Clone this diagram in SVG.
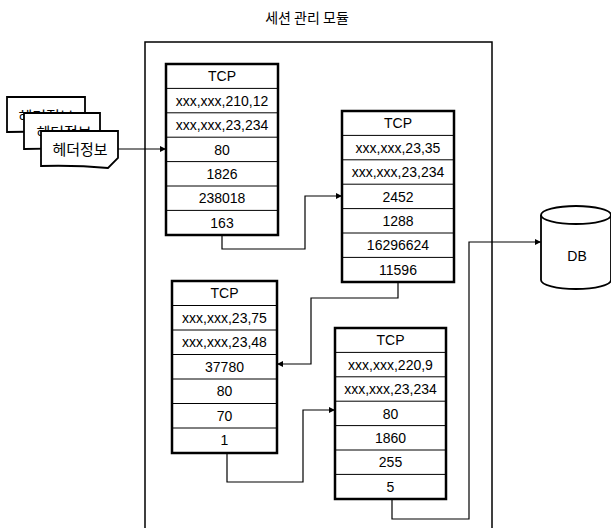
<svg xmlns="http://www.w3.org/2000/svg" width="611" height="528" viewBox="0 0 611 528">
<defs>
<style>
.t{font-family:"Liberation Sans","Noto Sans CJK KR",sans-serif;font-size:14px;fill:#000;text-anchor:middle}
.k{font-family:"Noto Sans CJK KR","Liberation Sans",sans-serif;fill:#000;text-anchor:middle}
.box{fill:#fff;stroke:#000;stroke-width:2.5}
.sep{stroke:#000;stroke-width:1}
.ln{fill:none;stroke:#000;stroke-width:1.2}
.doc{fill:#fff;stroke:#000;stroke-width:1.8}
</style>
<marker id="ah" viewBox="0 0 10 10" refX="10" refY="5" markerWidth="6" markerHeight="6" orient="auto" markerUnits="userSpaceOnUse">
<path d="M0,0 L10,5 L0,10 Z" fill="#000"/>
</marker>
</defs>
<rect width="611" height="528" fill="#fff"/>
<text class="k" x="307" y="23" font-size="14">세션 관리 모듈</text>
<g id="module">
<rect x="145" y="42" width="347" height="490" fill="none" stroke="#000" stroke-width="1.5"/>
</g>
<g id="headers">
<path class="doc" d="M7,97 H85 V124 L76,134 Q45,131 7,132 Z"/>
<text class="k" x="46" y="122" font-size="15">헤더정보</text>
<path class="doc" d="M24,113 H100 V141 L91,150 Q60,148 24,149 Z"/>
<text class="k" x="64" y="138" font-size="15">헤더정보</text>
<path class="doc" d="M41,131 H118 V158 L108,168 Q76,165 41,166 Z"/>
<text class="k" x="80" y="155" font-size="15">헤더정보</text>
</g>
<g id="node1">
<rect class="box" x="166" y="64" width="112" height="171"/>
<g class="sep"><line x1="166" y1="88.4" x2="278" y2="88.4"/><line x1="166" y1="112.8" x2="278" y2="112.8"/><line x1="166" y1="137.2" x2="278" y2="137.2"/><line x1="166" y1="161.6" x2="278" y2="161.6"/><line x1="166" y1="186" x2="278" y2="186"/><line x1="166" y1="210.4" x2="278" y2="210.4"/></g>
<text class="t" x="222" y="81">TCP</text>
<text class="t" x="222" y="105.5">xxx,xxx,210,12</text>
<text class="t" x="222" y="130">xxx,xxx,23,234</text>
<text class="t" x="222" y="154.5">80</text>
<text class="t" x="222" y="179">1826</text>
<text class="t" x="222" y="203">238018</text>
<text class="t" x="222" y="227.5">163</text>
</g>
<g id="node2">
<rect class="box" x="342" y="111" width="112" height="171"/>
<g class="sep"><line x1="342" y1="135.4" x2="454" y2="135.4"/><line x1="342" y1="159.8" x2="454" y2="159.8"/><line x1="342" y1="184.2" x2="454" y2="184.2"/><line x1="342" y1="208.6" x2="454" y2="208.6"/><line x1="342" y1="233" x2="454" y2="233"/><line x1="342" y1="257.4" x2="454" y2="257.4"/></g>
<text class="t" x="398" y="128">TCP</text>
<text class="t" x="398" y="152.5">xxx,xxx,23,35</text>
<text class="t" x="398" y="177">xxx,xxx,23,234</text>
<text class="t" x="398" y="201.5">2452</text>
<text class="t" x="398" y="226">1288</text>
<text class="t" x="398" y="250">16296624</text>
<text class="t" x="398" y="274.5">11596</text>
</g>
<g id="node3">
<rect class="box" x="172" y="281" width="105" height="172"/>
<g class="sep"><line x1="172" y1="305.5" x2="277" y2="305.5"/><line x1="172" y1="330" x2="277" y2="330"/><line x1="172" y1="354.5" x2="277" y2="354.5"/><line x1="172" y1="379" x2="277" y2="379"/><line x1="172" y1="403.5" x2="277" y2="403.5"/><line x1="172" y1="428" x2="277" y2="428"/></g>
<text class="t" x="224.5" y="298">TCP</text>
<text class="t" x="224.5" y="322.5">xxx,xxx,23,75</text>
<text class="t" x="224.5" y="347">xxx,xxx,23,48</text>
<text class="t" x="224.5" y="371.5">37780</text>
<text class="t" x="224.5" y="396">80</text>
<text class="t" x="224.5" y="420.5">70</text>
<text class="t" x="224.5" y="445">1</text>
</g>
<g id="node4">
<rect class="box" x="335" y="328" width="111" height="171"/>
<g class="sep"><line x1="335" y1="352.4" x2="446" y2="352.4"/><line x1="335" y1="376.8" x2="446" y2="376.8"/><line x1="335" y1="401.2" x2="446" y2="401.2"/><line x1="335" y1="425.6" x2="446" y2="425.6"/><line x1="335" y1="450" x2="446" y2="450"/><line x1="335" y1="474.4" x2="446" y2="474.4"/></g>
<text class="t" x="390.5" y="345">TCP</text>
<text class="t" x="390.5" y="369.5">xxx,xxx,220,9</text>
<text class="t" x="390.5" y="394">xxx,xxx,23,234</text>
<text class="t" x="390.5" y="418.5">80</text>
<text class="t" x="390.5" y="443">1860</text>
<text class="t" x="390.5" y="467">255</text>
<text class="t" x="390.5" y="491.5">5</text>
</g>
<g id="db">
<path d="M541,215 V280 A35,9 0 0 0 611,280 V215" fill="#fff" stroke="#000" stroke-width="1.8"/>
<ellipse cx="576" cy="215" rx="35" ry="9" fill="#fff" stroke="#000" stroke-width="1.8"/>
<text class="t" x="577" y="261" font-size="16">DB</text>
</g>
<g id="connectors">
<path class="ln" d="M118,149 H166" marker-end="url(#ah)"/>
<path class="ln" d="M222,235 V249 H305 V196 H342" marker-end="url(#ah)"/>
<path class="ln" d="M398,282 V298 H311 V364 H277" marker-end="url(#ah)"/>
<path class="ln" d="M227,453 V482 H303 V410 H335" marker-end="url(#ah)"/>
<path class="ln" d="M392,499 V519 H469 V242 H541" marker-end="url(#ah)"/>
</g>
</svg>
